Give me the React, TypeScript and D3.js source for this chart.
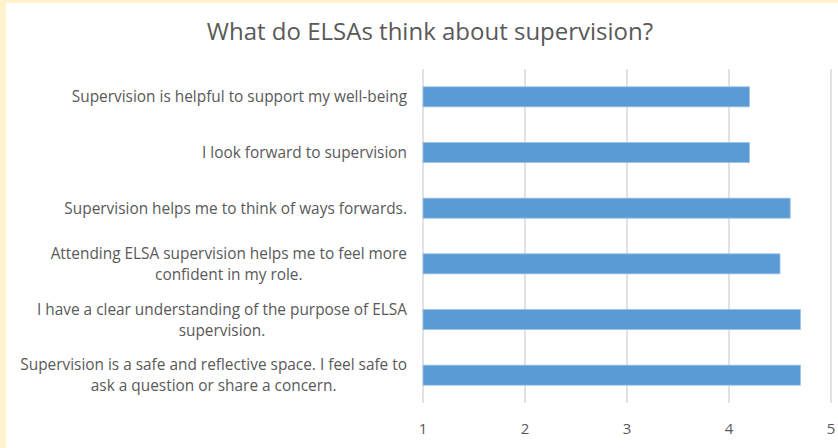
import { useEffect, useRef } from "react";
import * as d3 from "d3";

const labels: string[][] = [
  ["Supervision is helpful to support my well-being"],
  ["I look forward to supervision"],
  ["Supervision helps me to think of ways forwards."],
  ["Attending ELSA supervision helps me to feel more", "confident in my role."],
  ["I have a clear understanding of the purpose of ELSA", "supervision."],
  ["Supervision is a safe and reflective space. I feel safe to", "ask a question or share a concern."],
];
const values = [4.2, 4.2, 4.6, 4.5, 4.7, 4.7];
const ticks = [1, 2, 3, 4, 5];
const title = "What do ELSAs think about supervision?";

function App() {
  const ref = useRef<HTMLDivElement>(null);
  const width = 838;
  const height = 448;

  useEffect(() => {
    document.body.style.margin = "0";
    d3.select(ref.current).selectAll("*").remove();
    buildChart();
  }, []);

  const buildChart = () => {
    const font = "'Open Sans', 'Noto Sans', sans-serif";
    const svg = d3
      .select(ref.current)
      .append("svg")
      .attr("width", width)
      .attr("height", height)
      .style("display", "block");

    // background + cream frame
    svg.append("rect").attr("width", width).attr("height", height).attr("fill", "#FFF2CC");
    svg.append("rect").attr("x", 6).attr("y", 3).attr("width", width - 6).attr("height", height - 3).attr("fill", "#fff");

    svg
      .append("text")
      .attr("x", 430)
      .attr("y", 40)
      .attr("text-anchor", "middle")
      .attr("font-family", font)
      .attr("font-size", 24)
      .attr("fill", "#595959")
      .text(title);

    const x = d3.scaleLinear().domain([1, 5]).range([423, 831]);
    const y = d3
      .scaleBand()
      .domain(labels.map((_, i) => i.toString()))
      .range([69, 403])
      .paddingInner(0.64)
      .paddingOuter(0.32);

    // gridlines
    svg
      .selectAll("line.grid")
      .data(ticks)
      .enter()
      .append("line")
      .attr("class", "grid")
      .attr("x1", (d) => x(d))
      .attr("x2", (d) => x(d))
      .attr("y1", 69)
      .attr("y2", 403)
      .attr("stroke", "#d9d9d9")
      .attr("stroke-width", 1.5);

    svg
      .selectAll("text.tick")
      .data(ticks)
      .enter()
      .append("text")
      .attr("class", "tick")
      .attr("x", (d) => x(d))
      .attr("y", 434)
      .attr("text-anchor", "middle")
      .attr("font-family", font)
      .attr("font-size", 15)
      .attr("fill", "#595959")
      .text((d) => d);

    svg
      .selectAll("rect.bar")
      .data(values)
      .enter()
      .append("rect")
      .attr("class", "bar")
      .attr("x", x(1))
      // @ts-ignore
      .attr("y", (_, i) => y(i.toString()))
      .attr("width", (d) => x(d) - x(1))
      .attr("height", y.bandwidth())
      .attr("fill", "#5B9BD5")
      .attr("stroke", "#9DC3E6")
      .attr("stroke-width", 0.8);

    // category labels, lines centred within a right-aligned block
    const right = 407;
    const lineH = 21;
    labels.forEach((lines, i) => {
      const cy = (y(i.toString()) as number) + y.bandwidth() / 2;
      const g = svg.append("g");
      const texts = lines.map((ln, j) =>
        g
          .append("text")
          .attr("y", cy + (j - (lines.length - 1) / 2) * lineH + 5.5)
          .attr("text-anchor", "middle")
          .attr("font-family", font)
          .attr("font-size", 15.4)
          .attr("fill", "#595959")
          .text(ln)
      );
      const maxW = d3.max(texts, (t) => (t.node() as SVGTextElement).getComputedTextLength()) as number;
      texts.forEach((t) => t.attr("x", right - maxW / 2));
    });
  };

  return <div ref={ref}></div>;
}

export default App;
